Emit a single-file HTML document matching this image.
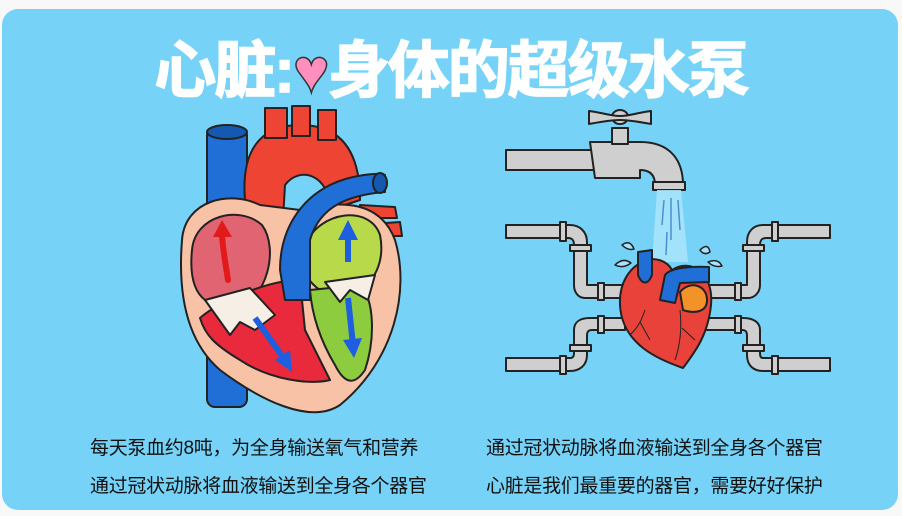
<!DOCTYPE html>
<html><head><meta charset="utf-8"><style>
html,body{margin:0;padding:0;background:#f8f8f8;width:902px;height:516px;overflow:hidden}
.card{position:absolute;left:2px;top:9px;width:896px;height:501px;background:#76d3f7;border-radius:16px}
.title{position:absolute;left:0;width:902px;top:20px;text-align:center;color:#fff;font:bold 62px "Liberation Sans","Noto Sans CJK SC",sans-serif;letter-spacing:-2px;-webkit-text-stroke:1.5px #fff}
.t{position:absolute;font:19px "Liberation Sans","Noto Sans CJK SC",sans-serif;color:#111;white-space:nowrap;letter-spacing:-0.3px}
svg{position:absolute;left:0;top:0}
</style></head><body>
<div class="card"></div>
<div class="title">心脏:<span style="color:#ff8fbf;-webkit-text-stroke:1.5px #333">♥</span>身体的超级水泵</div>
<svg width="902" height="516" viewBox="0 0 902 516" stroke="#222" stroke-width="2" stroke-linejoin="round">
<rect x="207" y="127" width="40" height="280" rx="8" fill="#1f6fd6"/>
<ellipse cx="227" cy="132" rx="20" ry="7" fill="#1558b0"/>
<path d="M245,200 C240,140 270,125 300,125 C340,125 360,150 360,200 L330,210 C330,175 300,165 285,185 L280,270 L250,270 Z" fill="#ee4433"/>
<rect x="265" y="108" width="22" height="30" fill="#ee4433"/>
<rect x="292" y="106" width="18" height="30" fill="#ee4433"/>
<rect x="318" y="110" width="18" height="30" fill="#ee4433"/>
<path d="M360,205 L395,207 L397,218 L360,218 Z M360,225 L400,222 L402,236 L360,236 Z" fill="#ee4433"/>
<path d="M182,240 C185,200 230,190 260,205 L300,210 C340,200 380,200 395,240 C410,290 395,360 340,405 C310,425 260,400 220,370 C185,340 178,290 182,240 Z" fill="#f7c2a6"/>
<path d="M192,250 C195,215 240,205 262,225 C280,250 265,300 240,305 L205,300 C192,290 190,270 192,250 Z" fill="#e06472"/>
<path d="M200,318 C220,300 270,280 300,280 L305,330 L330,380 C310,385 270,380 240,360 C215,345 205,335 200,318 Z" fill="#e82a3c"/>
<path d="M305,245 C320,210 370,205 380,235 C385,260 375,285 355,290 L320,290 C305,280 300,265 305,245 Z" fill="#b8d94a"/>
<path d="M310,290 L360,285 C375,300 375,340 365,370 C355,385 345,385 335,365 C320,340 312,315 310,290 Z" fill="#8ccc3e"/>
<path d="M280,270 C280,230 300,200 330,185 C350,175 380,172 385,175 L385,192 C350,195 320,205 310,240 L310,300 L285,300 Z" fill="#1f6fd6"/>
<ellipse cx="380" cy="183" rx="7" ry="10" fill="#1558b0"/>
<path d="M205,300 L250,288 L275,315 L255,330 L240,322 L230,335 Z" fill="#f5efe6"/>
<path d="M325,282 L375,275 L368,300 L350,290 L340,302 Z" fill="#f5efe6"/>
<g fill="none" stroke-width="6" stroke-linecap="round" stroke="#e21a1a"><path d="M228,280 C225,260 222,245 222,232"/></g>
<path d="M213,237 L222,220 L232,237 Z" fill="#e21a1a" stroke="none"/>
<g fill="none" stroke-width="6" stroke="#1d5fe0"><path d="M348,262 L348,237"/><path d="M348,298 L353,345"/><path d="M255,318 L285,360"/></g>
<path d="M338,240 L348,220 L358,240 Z M343,340 L354,358 L362,338 Z M275,360 L292,372 L290,350 Z" fill="#1d5fe0" stroke="none"/>
<g fill="#cfcfcf">
<rect x="506" y="150" width="90" height="20"/>
<path d="M590,142 L640,142 C670,142 683,160 683,185 L655,185 C655,175 650,170 640,170 L640,178 L595,178 Z"/>
<rect x="653" y="182" width="32" height="8"/>
<rect x="612" y="128" width="16" height="16"/>
<ellipse cx="620" cy="117" rx="8" ry="7"/>
<path d="M589,111 C600,112 610,116 620,116 C630,116 640,112 651,111 L651,124 C640,122 630,120 620,120 C610,120 600,122 589,124 Z"/>
<path d="M506,225 L570,225 C580,225 587,232 587,242 L587,285 L625,285 L625,298 L585,298 C578,298 574,292 574,285 L574,245 C574,240 572,238 568,238 L506,238 Z"/>
<path d="M506,358 L570,358 C574,358 574,355 574,352 L574,330 C574,322 580,318 590,318 L625,318 L625,330 L592,330 C588,330 587,332 587,336 L587,355 C587,365 580,371 570,371 L506,371 Z"/>
<path d="M830,225 L763,225 C753,225 747,232 747,242 L747,285 L705,285 L705,298 L748,298 C755,298 760,292 760,285 L760,245 C760,240 762,238 766,238 L830,238 Z"/>
<path d="M830,358 L763,358 C760,358 760,355 760,352 L760,330 C760,322 753,318 743,318 L705,318 L705,330 L742,330 C746,330 747,332 747,336 L747,355 C747,365 753,371 763,371 L830,371 Z"/>
<rect x="560" y="222" width="6" height="19"/><rect x="570" y="245" width="21" height="6"/><rect x="598" y="283" width="6" height="17"/>
<rect x="598" y="316" width="6" height="17"/><rect x="570" y="345" width="21" height="6"/><rect x="560" y="356" width="6" height="18"/>
<rect x="772" y="222" width="6" height="19"/><rect x="743" y="245" width="21" height="6"/><rect x="735" y="283" width="6" height="17"/>
<rect x="735" y="316" width="6" height="17"/><rect x="743" y="345" width="21" height="6"/><rect x="772" y="356" width="6" height="18"/>
</g>
<path d="M657,190 L681,190 L688,262 L652,262 Z" fill="#a9e3fb" stroke="none" opacity=".9"/>
<g stroke="#4a8fd0" stroke-width="1.5"><path d="M664,200 L662,225"/><path d="M671,198 L671,240"/><path d="M678,200 L680,230"/><path d="M667,232 L666,255"/></g>
<g fill="#a9e3fb" stroke-width="1.5"><path d="M622,245 q8,-6 12,4 q-6,2 -12,-4z"/><path d="M615,265 q8,-8 16,-2 q-8,6 -16,2z"/><path d="M700,250 q8,-8 10,2 q-6,4 -10,-2z"/><path d="M708,262 q10,-4 14,4 q-8,2 -14,-4z"/></g>
<path d="M642,262 C655,255 668,262 672,270 C690,258 714,272 711,305 C708,335 695,352 683,368 C660,360 622,345 620,305 C619,282 630,268 642,262 Z" fill="#e8423a"/>
<path d="M638,252 L652,250 L652,275 C648,285 642,285 638,275 Z" fill="#1f6fd6"/>
<path d="M660,300 L665,275 C670,268 690,266 709,267 L709,282 L680,283 L675,303 Z" fill="#1f6fd6"/>
<path d="M680,292 C690,280 707,285 707,300 C707,312 695,314 683,310 Z" fill="#f4922a"/>
<g fill="none" stroke-width="1"><path d="M645,310 C640,325 635,330 630,335"/><path d="M640,322 L650,340"/><path d="M680,310 C682,330 680,345 675,360"/><path d="M682,328 L695,340"/></g>
</svg>
<div class="t" style="left:90px;top:433px">每天泵血约8吨，为全身输送氧气和营养</div>
<div class="t" style="left:90px;top:471px">通过冠状动脉将血液输送到全身各个器官</div>
<div class="t" style="left:486px;top:433px">通过冠状动脉将血液输送到全身各个器官</div>
<div class="t" style="left:486px;top:471px">心脏是我们最重要的器官，需要好好保护</div>
</body></html>
